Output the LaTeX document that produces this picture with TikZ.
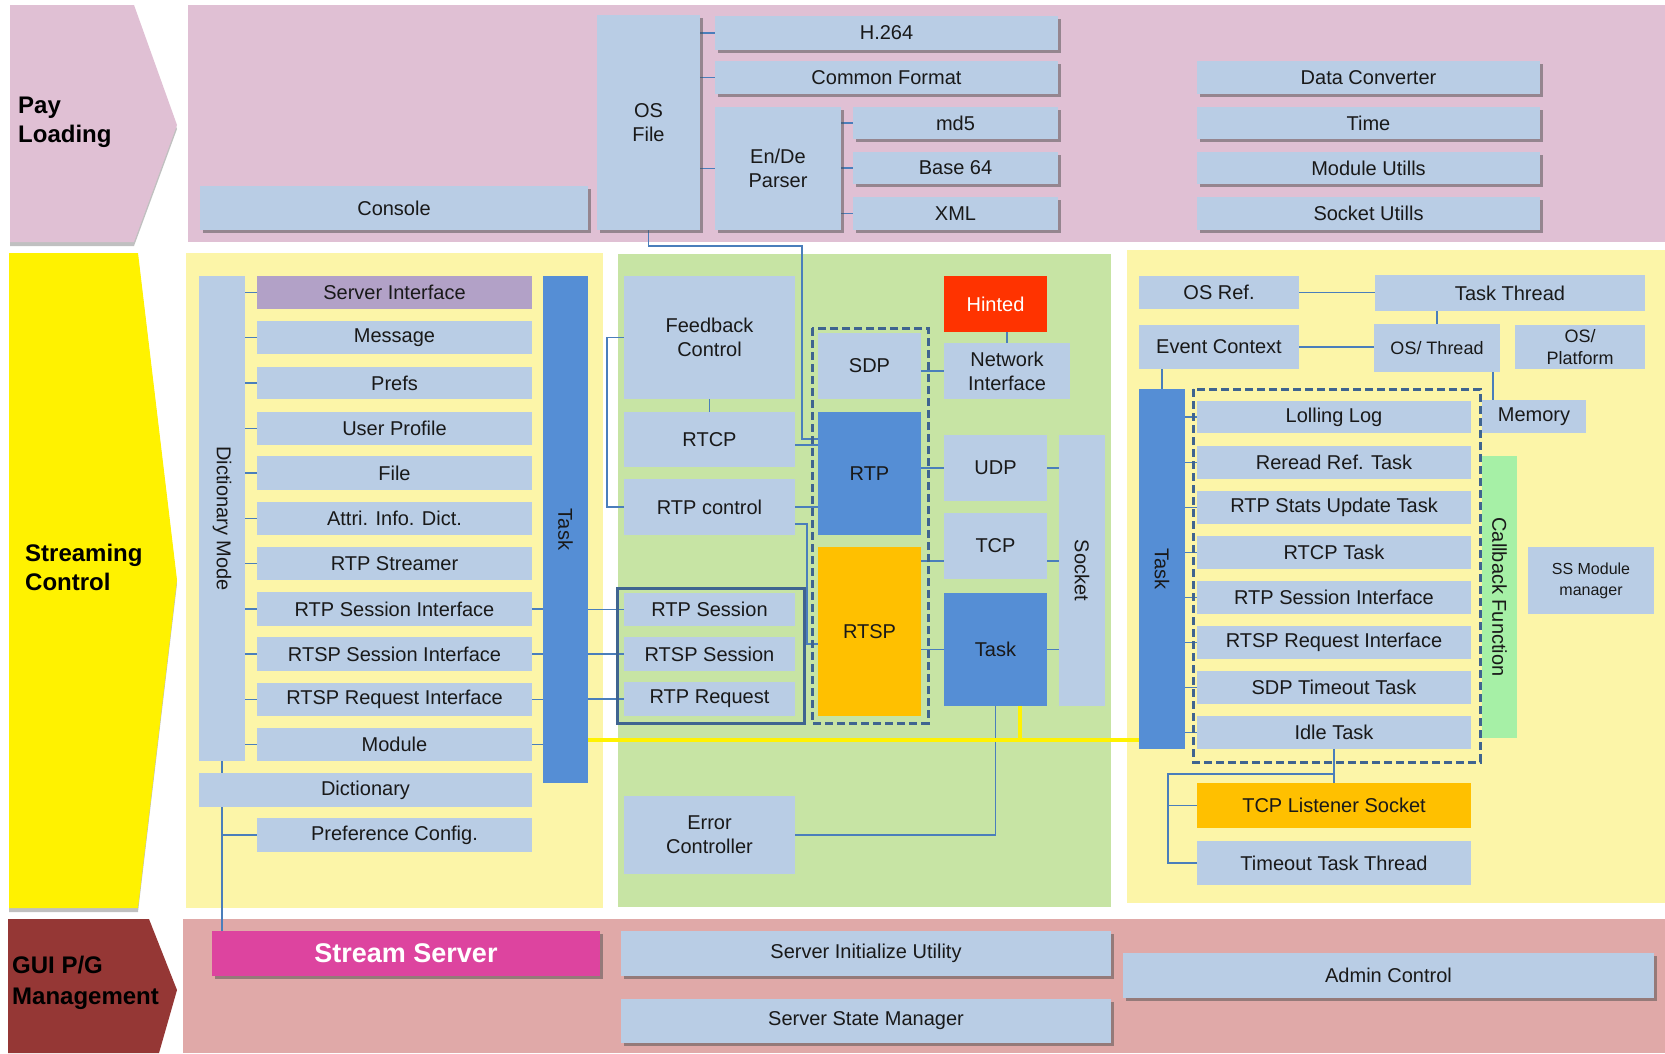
\documentclass[tikz,border=0pt]{standalone}
\usepackage{fontspec}
\setmainfont{Liberation Sans}
\usetikzlibrary{shadows,calc}
\pgfdeclarelayer{bg}\pgfdeclarelayer{mid}\pgfsetlayers{bg,mid,main}
\definecolor{lb}{HTML}{B9CDE5}
\definecolor{bl}{HTML}{558ED5}
\definecolor{pinkP}{HTML}{E0C0D4}
\definecolor{yelP}{HTML}{FCF5A8}
\definecolor{grnP}{HTML}{C7E4A4}
\definecolor{botP}{HTML}{E0A9A8}
\definecolor{dred}{HTML}{953735}
\definecolor{purp}{HTML}{B2A1C7}
\definecolor{orng}{HTML}{FFC000}
\definecolor{hint}{HTML}{FF3300}
\definecolor{mag}{HTML}{DD449F}
\definecolor{cbg}{HTML}{A6F0A6}
\definecolor{lnc}{HTML}{4A7EBB}
\definecolor{frc}{HTML}{3F6490}
\newcommand\mybox[7][]{%
 \pgfmathsetmacro\mbw{#5-#3}\pgfmathsetmacro\mbh{#6-#4}%
 \pgfmathsetmacro\mbx{(#3+#5)/2}\pgfmathsetmacro\mby{(#4+#6)/2}%
 \node[bx,minimum width=\mbw pt,minimum height=\mbh pt,#1] (#2) at (\mbx,\mby) {#7};}
\begin{document}
\begin{tikzpicture}[x=1pt,y=-1pt,
 bx/.style={fill=lb,inner sep=0pt,outer sep=0pt,align=center,font=\fontsize{20}{24}\selectfont,text=black!90},
 sh/.style={drop shadow={shadow xshift=3pt,shadow yshift=-3pt,opacity=0.5,fill=black!70}},
 ash/.style={drop shadow={shadow xshift=0pt,shadow yshift=-4pt,opacity=0.35,fill=black!70}},
 rot/.style={rotate=-90,font=\fontsize{20}{24}\selectfont,text=black!90,inner sep=0pt},
 cn/.style={draw=lnc,line width=1.5pt},
 lab/.style={font=\fontsize{24}{29}\selectfont\bfseries,align=left,anchor=west,inner sep=0pt},
 small/.style={font=\fontsize{18}{22}\selectfont},
 dfr/.style={frc,line width=3pt,dash pattern=on 8pt off 4pt}]
\useasboundingbox (0,0) rectangle (1665,1053);
\begin{pgfonlayer}{bg}
\fill[white] (0,0) rectangle (1665,1053);
\fill[pinkP,ash] (10,5) -- (134,5) -- (177,125) -- (134,242) -- (10,242) -- cycle;
\fill[pinkP] (188,5) rectangle (1665,242);
\fill[yellow,ash] (9,253) -- (138,253) -- (177,580) -- (138,908) -- (9,908) -- cycle;
\fill[yelP] (186,253) rectangle (603,908);
\fill[grnP] (618,254) rectangle (1111,907);
\fill[yelP] (1127,250) rectangle (1665,903);
\fill[dred] (8,919) -- (149,919) -- (177,990) -- (159,1053) -- (8,1053) -- cycle;
\fill[botP] (183,919) rectangle (1665,1053);
\end{pgfonlayer}
\node[lab] (plab) at (18,122) {Pay\\Loading};
\node[lab] (sclab) at (25,567) {Streaming\\Control};
\node[lab,font=\fontsize{24}{31}\selectfont\bfseries] (glab) at (12,983) {GUI P/G\\Management};
% top row
\mybox[sh]{console}{200}{186}{588}{230}{Console}
\mybox[sh]{osfile}{597}{15}{700}{230}{OS\\File}
\mybox[sh]{h264}{715}{16}{1058}{50}{H.264}
\mybox[sh]{cf}{715}{61}{1058}{94}{Common Format}
\mybox[sh]{ende}{715}{107}{841}{230}{En/De\\Parser}
\mybox[sh]{md5}{853}{107}{1058}{139}{md5}
\mybox[sh]{b64}{853}{152}{1058}{184}{Base 64}
\mybox[sh]{xml}{853}{197}{1058}{230}{XML}
\mybox[sh]{dc}{1197}{61}{1540}{94}{Data Converter}
\mybox[sh]{time}{1197}{107}{1540}{139}{Time}
\mybox[sh]{mu}{1197}{152}{1540}{184}{Module Utills}
\mybox[sh]{su}{1197}{197}{1540}{230}{Socket Utills}
% left section
\mybox{dm}{199}{276}{245}{761}{}
\node[rot] (dmt) at (dm) {Dictionary Mode};
\mybox[fill=purp]{si}{257}{276}{532}{309}{Server Interface}
\mybox{msg}{257}{321}{532}{354}{Message}
\mybox{prefs}{257}{367}{532}{399}{Prefs}
\mybox{up}{257}{412}{532}{445}{User Profile}
\mybox{file}{257}{456}{532}{490}{File}
\mybox{aid}{257}{502}{532}{535}{Attri. Info. Dict.}
\mybox{rs}{257}{547}{532}{580}{RTP Streamer}
\mybox{rsiL}{257}{592}{532}{626}{RTP Session Interface}
\mybox{rssiL}{257}{637}{532}{671}{RTSP Session Interface}
\mybox{rriL}{257}{683}{532}{716}{RTSP Request Interface}
\mybox{module}{257}{728}{532}{761}{Module}
\mybox{dict}{199}{773}{532}{807}{Dictionary}
\mybox{pc}{257}{818}{532}{852}{Preference Config.}
\mybox[fill=bl]{taskL}{543}{276}{588}{783}{}
\node[rot] (taskLt) at (taskL) {Task};
% middle section
\mybox{fc}{624}{276}{795}{399}{Feedback\\Control}
\mybox{rtcp}{624}{412}{795}{467}{RTCP}
\mybox{rtpc}{624}{479}{795}{535}{RTP control}
\mybox{rtpsess}{624}{593}{795}{626}{RTP Session}
\mybox{rtspsess}{624}{637}{795}{671}{RTSP Session}
\mybox{rtpreq}{624}{682}{795}{716}{RTP Request}
\mybox{sdp}{818}{333}{921}{399}{SDP}
\mybox[fill=bl]{rtp}{818}{412}{921}{535}{RTP}
\mybox[fill=orng]{rtsp}{818}{547}{921}{716}{RTSP}
\mybox[fill=hint,text=white]{hinted}{944}{276}{1047}{332}{Hinted}
\mybox{ni}{944}{343}{1070}{399}{Network\\Interface}
\mybox{udp}{944}{435}{1047}{501}{UDP}
\mybox{tcp}{944}{513}{1047}{579}{TCP}
\mybox[fill=bl]{taskM}{944}{593}{1047}{706}{Task}
\mybox{socket}{1059}{435}{1105}{706}{}
\node[rot] (sockt) at (socket) {Socket};
\mybox{ec}{624}{796}{795}{874}{Error\\Controller}
\draw[frc,line width=3pt] (617,588) rectangle (804,723);
\draw[dfr] (812,328) rectangle (928,723);
% right section
\mybox{osref}{1139}{276}{1299}{309}{OS Ref.}
\mybox{tt}{1375}{275}{1645}{311}{Task Thread}
\mybox{evc}{1139}{325}{1299}{369}{Event Context}
\mybox[small]{ost}{1374}{324}{1500}{372}{OS/ Thread}
\mybox[small]{osp}{1515}{325}{1645}{369}{OS/\\Platform}
\mybox{mem}{1482}{400}{1586}{433}{Memory}
\mybox[fill=bl]{taskR}{1139}{389}{1185}{749}{}
\node[rot] (taskRt) at (taskR) {Task};
\mybox{ll}{1197}{401}{1471}{433}{Lolling Log}
\mybox{rrt}{1197}{446}{1471}{479}{Reread Ref. Task}
\mybox{rsut}{1197}{491}{1471}{524}{RTP Stats Update Task}
\mybox{rtcpt}{1197}{536}{1471}{569}{RTCP Task}
\mybox{rsiR}{1197}{581}{1471}{614}{RTP Session Interface}
\mybox{rriR}{1197}{626}{1471}{659}{RTSP Request Interface}
\mybox{sdpt}{1197}{671}{1471}{704}{SDP Timeout Task}
\mybox{idle}{1197}{716}{1471}{749}{Idle Task}
\draw[dfr] (1193,389) rectangle (1480,762);
\mybox[fill=cbg]{cb}{1482}{456}{1517}{738}{}
\node[rot] (cbt) at (cb) {Callback Function};
\mybox[font=\fontsize{16}{21}\selectfont]{ssm}{1528}{547}{1654}{614}{SS Module\\manager}
\mybox[fill=orng]{tcpl}{1197}{783}{1471}{828}{TCP Listener Socket}
\mybox{tto}{1197}{841}{1471}{885}{Timeout Task Thread}
% bottom row
\mybox[sh,fill=mag,text=white,font=\fontsize{27}{32}\selectfont\bfseries]{ss}{212}{931}{600}{976}{Stream Server}
\mybox[sh]{siu}{621}{931}{1111}{976}{Server Initialize Utility}
\mybox[sh]{ssmg}{621}{999}{1111}{1043}{Server State Manager}
\mybox[sh]{ac}{1123}{953}{1654}{998}{Admin Control}
% connectors
\coordinate (busj) at (1020,740);
\coordinate (busL) at (588,740);
\coordinate (br) at (1334,774);
\coordinate (bl) at (1168,774);
\begin{pgfonlayer}{mid}
\foreach \n in {h264,cf,ende} \draw[cn] (osfile.east |- \n.west) -- (\n.west);
\foreach \n in {md5,b64,xml} \draw[cn] (ende.east |- \n.west) -- (\n.west);
\draw[cn] (osfile.south) |- (802,246) |- ([yshift=34.5pt]rtp.west);
\foreach \n in {si,msg,prefs,up,file,aid,rs,rsiL,rssiL,rriL,module} \draw[cn] (dm.east |- \n.west) -- (\n.west);
\draw[cn] (dm.south) -- (dm.south |- ss.north);
\draw[cn] (dm.south |- pc.west) -- (pc.west);
\foreach \n in {rsiL,rssiL,rriL,module} \draw[cn] (\n.east) -- (taskL.west |- \n.east);
\foreach \n in {rtpsess,rtspsess,rtpreq} \draw[cn] (taskL.east |- \n.west) -- (\n.west);
\draw[cn] (fc.south) -- (rtcp.north);
\draw[cn] (fc.west) -- ++(-17,0) |- (rtpc.west);
\draw[cn] ([yshift=-5.5pt]rtcp.east) -- ([yshift=-5.5pt]rtcp.east -| rtp.west);
\draw[cn] (rtpc.east) -- (rtpc.east -| rtp.west);
\draw[cn] ([yshift=-17pt]rtpc.east) -- ++(12,0) |- ([yshift=-12.5pt]rtsp.west);
\draw[cn] (ni.west) -- (ni.west -| sdp.east);
\draw[cn] (ni.north |- hinted.south) -- (ni.north);
\draw[cn] (udp.west) -- (udp.west -| rtp.east);
\draw[cn] ([yshift=-15pt]tcp.west) -- ([yshift=-15pt]tcp.west -| rtsp.east);
\draw[cn] (taskM.west) -- (taskM.west -| rtsp.east);
\draw[cn] (udp.east) -- (udp.east -| socket.west);
\draw[cn] ([yshift=-15pt]tcp.east) -- ([yshift=-15pt]tcp.east -| socket.west);
\draw[cn] (taskM.east) -- (taskM.east -| socket.west);
\draw[cn] (taskM.south) |- (ec.east);
\draw[yellow,line width=3.5pt] (busL) -- (busL -| taskR.west);
\draw[yellow,line width=3.5pt] (taskM.south -| busj) -- (busj);
\draw[cn] (osref.east) -- (osref.east -| tt.west);
\draw[cn] (evc.east) -- (evc.east -| ost.west);
\draw[cn] (ost.north) -- (ost.north |- tt.south);
\draw[cn] ([xshift=56pt]ost.south) -- ([xshift=56pt]ost.south |- mem.north);
\draw[cn] (taskR.north) -- (taskR.north |- evc.south);
\foreach \n in {ll,rrt,rsut,rtcpt,rsiR,rriR,sdpt,idle} \draw[cn] (taskR.east |- \n.west) -- (\n.west);
\draw[cn] (idle.south) -- (tcpl.north);
\draw[cn] (br) -- (bl) |- (tto.west);
\draw[cn] (tcpl.west) -- (tcpl.west -| bl);
\end{pgfonlayer}
\end{tikzpicture}
\end{document}
